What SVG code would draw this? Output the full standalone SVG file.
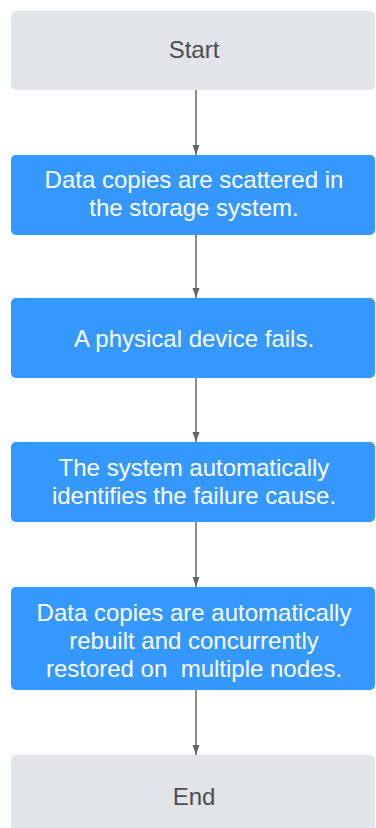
<svg xmlns="http://www.w3.org/2000/svg" width="376" height="828" viewBox="0 0 376 828">
  <style>
    .term { fill: #e1e4e8; }
    .step { fill: #3598fe; }
    .lbl { font-family: "Liberation Sans", Arial, sans-serif; font-size: 24px; text-anchor: middle; }
    .term-t { fill: #4d4d4d; }
    .step-t { fill: #ffffff; }
    .flow { stroke: #666666; stroke-width: 1.5; fill: none; marker-end: url(#arrow); }
  </style>
  <defs>
    <marker id="arrow" viewBox="0 0 10 8" refX="10" refY="4" markerWidth="10" markerHeight="8" markerUnits="userSpaceOnUse" orient="auto">
      <path d="M0,0.5 L10,4 L0,7.5 Z" fill="#666666"/>
    </marker>
  </defs>
  <rect width="376" height="828" fill="#ffffff"/>

  <g id="connectors">
    <line class="flow" x1="196" y1="90" x2="196" y2="155"/>
    <line class="flow" x1="196" y1="235" x2="196" y2="298"/>
    <line class="flow" x1="196" y1="378" x2="196" y2="442"/>
    <line class="flow" x1="196" y1="522" x2="196" y2="587"/>
    <line class="flow" x1="196" y1="690" x2="196" y2="755"/>
  </g>

  <g id="start">
    <rect class="term" x="11" y="11" width="364" height="79" rx="5"/>
    <text class="lbl term-t" x="194" y="58">Start</text>
  </g>

  <g id="scatter">
    <rect class="step" x="11" y="155" width="364" height="80" rx="5"/>
    <text class="lbl step-t" x="194" y="188">Data copies are scattered in</text>
    <text class="lbl step-t" x="194" y="216">the storage system.</text>
  </g>

  <g id="fail">
    <rect class="step" x="11" y="298" width="364" height="80" rx="5"/>
    <text class="lbl step-t" x="194" y="347">A physical device fails.</text>
  </g>

  <g id="identify">
    <rect class="step" x="11" y="442" width="364" height="80" rx="5"/>
    <text class="lbl step-t" x="194" y="476">The system automatically</text>
    <text class="lbl step-t" x="194" y="504">identifies the failure cause.</text>
  </g>

  <g id="rebuild">
    <rect class="step" x="11" y="587" width="364" height="103" rx="5"/>
    <text class="lbl step-t" x="194" y="621">Data copies are automatically</text>
    <text class="lbl step-t" x="194" y="649">rebuilt and concurrently</text>
    <text class="lbl step-t" x="194" y="677" xml:space="preserve">restored on  multiple nodes.</text>
  </g>

  <g id="end">
    <rect class="term" x="11" y="755" width="364" height="80" rx="5"/>
    <text class="lbl term-t" x="194" y="805">End</text>
  </g>
</svg>
